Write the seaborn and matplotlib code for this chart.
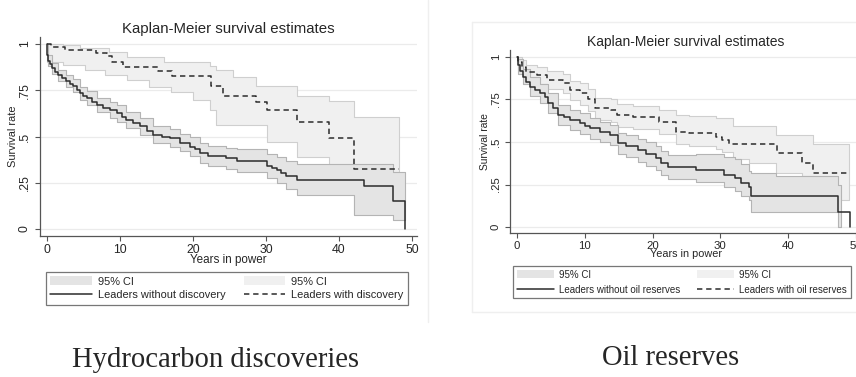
import matplotlib
matplotlib.use('agg')
import matplotlib.pyplot as plt
from matplotlib.patches import Patch
from matplotlib.lines import Line2D
import seaborn as sns

# --- data (years in power -> survival rate) ---
# left panel: hydrocarbon discoveries
hc_no_t = [0, 0.05, 0.1, 0.2, 0.4, 0.7, 1.1, 1.6, 2.1, 2.7, 3.2, 3.65, 4.1, 4.6, 5.0, 5.5,
           6.2, 6.85, 7.7, 8.7, 9.6, 10.3, 10.9, 11.8, 12.8, 13.7, 14.6, 15.8, 16.9, 18.2,
           19.6, 20.3, 21.0, 22.1, 24.6, 26.0, 30.1, 30.8, 31.5, 32.1, 32.8, 34.2, 43.4,
           47.4, 49.0]
hc_no_s = [1.0, 0.97, 0.94, 0.91, 0.89, 0.87, 0.85, 0.83, 0.815, 0.80, 0.785, 0.773, 0.752,
           0.733, 0.72, 0.706, 0.688, 0.67, 0.656, 0.643, 0.625, 0.607, 0.589, 0.573, 0.557,
           0.532, 0.508, 0.498, 0.49, 0.467, 0.445, 0.43, 0.409, 0.395, 0.382, 0.369, 0.34,
           0.33, 0.319, 0.30, 0.286, 0.265, 0.231, 0.151, 0.0]
hc_no_ci_t = [0, 0.2, 0.7, 1.6, 2.7, 3.65, 4.6, 5.5, 6.85, 8.7, 9.6, 10.9, 12.8, 14.6, 16.9,
              18.2, 19.6, 21.0, 22.1, 24.6, 26.0, 30.1, 31.5, 32.8, 34.2, 42.1, 47.4, 49.0]
hc_no_ci_lo = [1.0, 0.88, 0.84, 0.80, 0.77, 0.74, 0.70, 0.67, 0.63, 0.60, 0.58, 0.545, 0.51,
               0.465, 0.445, 0.42, 0.395, 0.355, 0.34, 0.325, 0.31, 0.275, 0.25, 0.215, 0.184,
               0.076, 0.047, 0.047]
hc_no_ci_hi = [1.0, 0.94, 0.90, 0.86, 0.83, 0.81, 0.77, 0.745, 0.71, 0.685, 0.67, 0.635, 0.60,
               0.555, 0.54, 0.515, 0.495, 0.463, 0.45, 0.44, 0.43, 0.405, 0.39, 0.365, 0.35,
               0.35, 0.31, 0.31]

hc_yes_t = [0, 0.6, 2.5, 6.8, 8.3, 9.0, 10.4, 15.2, 17.2, 22.5, 24.1, 28.6, 30.1, 34.2, 38.6,
            42.1, 48.2]
hc_yes_s = [1.0, 0.985, 0.97, 0.95, 0.935, 0.905, 0.877, 0.856, 0.827, 0.773, 0.719, 0.688,
            0.643, 0.58, 0.49, 0.323, 0.323]
hc_yes_ci_t = [0, 2.2, 4.5, 5.2, 8.0, 8.5, 11.0, 14.0, 16.0, 17.0, 20.0, 22.3, 23.2, 25.5,
               28.6, 30.1, 34.2, 38.6, 42.1, 48.2]
hc_yes_ci_lo = [0.905, 0.886, 0.886, 0.86, 0.832, 0.832, 0.805, 0.77, 0.77, 0.74, 0.70, 0.643,
                0.562, 0.562, 0.562, 0.472, 0.39, 0.256, 0.08, 0.08]
hc_yes_ci_hi = [1.0, 0.995, 0.977, 0.977, 0.977, 0.958, 0.931, 0.931, 0.905, 0.905, 0.905,
                0.88, 0.86, 0.823, 0.773, 0.773, 0.72, 0.69, 0.607, 0.607]

# right panel: oil reserves
oil_no_t = [0, 0.1, 0.2, 0.5, 0.93, 1.4, 1.9, 2.6, 3.4, 4.1, 4.6, 5.3, 6.1, 7.0, 7.8, 9.3,
            10.0, 10.7, 12.2, 13.7, 14.9, 16.1, 17.8, 19.1, 20.5, 21.3, 22.3, 26.4, 30.6,
            32.1, 33.0, 34.3, 34.5, 47.4, 49.1]
oil_no_s = [1.0, 0.975, 0.953, 0.92, 0.884, 0.855, 0.825, 0.805, 0.786, 0.767, 0.727, 0.698,
            0.659, 0.645, 0.629, 0.61, 0.595, 0.58, 0.561, 0.541, 0.492, 0.476, 0.453, 0.429,
            0.404, 0.375, 0.351, 0.335, 0.306, 0.286, 0.257, 0.237, 0.182, 0.09, 0.0]
oil_no_ci_t = [0, 0.2, 0.93, 1.9, 3.4, 4.6, 6.1, 7.8, 9.3, 10.7, 12.2, 13.7, 14.9, 16.1, 17.8,
               19.1, 20.5, 21.3, 22.3, 26.4, 30.6, 32.1, 33.0, 34.3, 34.5, 38.2, 47.4, 47.8]
oil_no_ci_lo = [1.0, 0.90, 0.84, 0.77, 0.73, 0.67, 0.60, 0.57, 0.55, 0.52, 0.50, 0.48, 0.43,
                0.41, 0.385, 0.36, 0.335, 0.305, 0.28, 0.265, 0.235, 0.21, 0.18, 0.16, 0.09,
                0.09, 0.0, 0.0]
oil_no_ci_hi = [1.0, 0.99, 0.93, 0.88, 0.84, 0.79, 0.72, 0.69, 0.67, 0.64, 0.62, 0.60, 0.555,
                0.54, 0.52, 0.50, 0.475, 0.445, 0.425, 0.43, 0.41, 0.40, 0.37, 0.33, 0.316,
                0.30, 0.25, 0.25]

oil_yes_t = [0, 0.2, 0.7, 1.4, 2.9, 4.4, 6.8, 7.8, 9.3, 10.5, 11.5, 13.9, 14.7, 17.1, 21.0,
             23.5, 25.4, 29.4, 30.3, 31.3, 38.4, 42.0, 43.6, 49.0]
oil_yes_s = [1.0, 0.973, 0.943, 0.914, 0.894, 0.865, 0.849, 0.806, 0.786, 0.751, 0.698, 0.688,
             0.659, 0.645, 0.62, 0.561, 0.551, 0.531, 0.512, 0.486, 0.437, 0.378, 0.316, 0.316]
oil_yes_ci_t = [0, 0.2, 0.7, 1.4, 2.9, 4.4, 6.8, 7.8, 9.3, 10.5, 11.5, 13.9, 14.7, 17.1, 21.0,
                23.5, 25.4, 29.4, 30.3, 31.9, 34.3, 38.2, 42.0, 43.6, 49.0]
oil_yes_ci_lo = [1.0, 0.93, 0.90, 0.87, 0.84, 0.81, 0.79, 0.745, 0.72, 0.685, 0.63, 0.62, 0.59,
                 0.575, 0.55, 0.49, 0.475, 0.46, 0.44, 0.40, 0.376, 0.317, 0.30, 0.16, 0.16]
oil_yes_ci_hi = [1.0, 1.0, 0.98, 0.955, 0.94, 0.915, 0.90, 0.86, 0.845, 0.81, 0.76, 0.75, 0.725,
                 0.71, 0.69, 0.66, 0.65, 0.64, 0.64, 0.594, 0.594, 0.54, 0.54, 0.49, 0.49]

y_ticks = [0, 0.25, 0.5, 0.75, 1]
y_tick_labels = ['0', '.25', '.5', '.75', '1']
x_ticks = [0, 10, 20, 30, 40, 50]

W, H = 856, 377
DARK_CI = '#e4e4e4'
LIGHT_CI = '#f0f0f0'
LINE_C = '#2b2b2b'
AXIS_C = '#555555'

sns.set_theme(style='white')
plt.rcParams['font.family'] = ['Liberation Sans', 'DejaVu Sans']

fig = plt.figure(figsize=(W / 100, H / 100), dpi=100)
fig.patch.set_facecolor('white')


def px_axes(x0, x1, y0, y1):
    # pixel box (top-left origin) -> figure fraction
    return fig.add_axes([x0 / W, 1 - y1 / H, (x1 - x0) / W, (y1 - y0) / H])


def km_panel(ax, no, yes, xlim, ylim, s, labels, leg_xy, leg_fs, leg_sp):
    (t0, s0, ct0, lo0, hi0) = no
    (t1, s1, ct1, lo1, hi1) = yes
    for yv in y_ticks:
        ax.axhline(yv, color='#ebebeb', lw=0.9, zorder=0)
    ax.fill_between(ct1, lo1, hi1, step='post', facecolor=LIGHT_CI,
                    edgecolor='#cfcfcf', lw=0.8, zorder=1)
    ax.fill_between(ct0, lo0, hi0, step='post', facecolor=DARK_CI,
                    edgecolor='#b4b4b4', lw=0.8, zorder=2)
    sns.lineplot(x=t0, y=s0, ax=ax, drawstyle='steps-post', estimator=None, sort=False,
                 color=LINE_C, lw=1.1, zorder=3)
    sns.lineplot(x=t1, y=s1, ax=ax, drawstyle='steps-post', estimator=None, sort=False,
                 color=LINE_C, lw=1.1, dashes=(3.5, 2.5), zorder=3)
    ax.set_xlim(*xlim)
    ax.set_ylim(*ylim)
    ax.set_xticks(x_ticks)
    ax.set_yticks(y_ticks)
    ax.set_yticklabels(y_tick_labels, rotation=90, va='center')
    for sp in ['top', 'right']:
        ax.spines[sp].set_visible(False)
    for sp in ['left', 'bottom']:
        ax.spines[sp].set_color(AXIS_C)
        ax.spines[sp].set_linewidth(0.9)
    ax.tick_params(axis='both', direction='out', length=3.5, width=0.8, color=AXIS_C,
                   labelsize=8.8 * s, pad=2, left=True, bottom=True)
    ax.tick_params(axis='y', pad=3)
    ax.set_xlabel('Years in power', fontsize=8.4 * s, labelpad=-1.0)
    ax.set_ylabel('Survival rate', fontsize=7.9 * s, labelpad=0.5)
    ax.set_title('Kaplan-Meier survival estimates', fontsize=10.8 * s, pad=3.0)
    ax.set_facecolor('white')

    handles = [Patch(facecolor=DARK_CI, edgecolor='none'),
               Line2D([], [], color=LINE_C, lw=1.1),
               Patch(facecolor=LIGHT_CI, edgecolor='none'),
               Line2D([], [], color=LINE_C, lw=1.1, dashes=(3.5, 2.5))]
    leg = fig.legend(handles, ['95% CI', labels[0], '95% CI', labels[1]], ncol=2,
                     loc='upper left', bbox_to_anchor=(leg_xy[0] / W, 1 - leg_xy[1] / H),
                     bbox_transform=fig.transFigure, borderaxespad=0, fontsize=leg_fs,
                     frameon=True, fancybox=False, handlelength=3.8, handleheight=0.9,
                     handletextpad=0.55, columnspacing=1.65, labelspacing=leg_sp,
                     borderpad=0.38)
    leg.get_frame().set_edgecolor(AXIS_C)
    leg.get_frame().set_linewidth(0.9)


# left: hydrocarbon discoveries
ax1 = px_axes(40, 417, 37, 236)
km_panel(ax1,
         (hc_no_t, hc_no_s, hc_no_ci_t, hc_no_ci_lo, hc_no_ci_hi),
         (hc_yes_t, hc_yes_s, hc_yes_ci_t, hc_yes_ci_lo, hc_yes_ci_hi),
         (-0.92, 50.68), (-0.038, 1.038), 1.0,
         ['Leaders without discovery', 'Leaders with discovery'], (46, 272), 7.9, 0.32)

# right: oil reserves (cut off at the right edge)
ax2 = px_axes(510, 862, 50, 233)
km_panel(ax2,
         (oil_no_t, oil_no_s, oil_no_ci_t, oil_no_ci_lo, oil_no_ci_hi),
         (oil_yes_t, oil_yes_s, oil_yes_ci_t, oil_yes_ci_lo, oil_yes_ci_hi),
         (-1.03, 50.9), (-0.035, 1.041), 0.93,
         ['Leaders without oil reserves', 'Leaders with oil reserves'], (513, 266), 7.05, 0.5)

# faint borders of the two pasted graph images
faint = '#efefef'
fig.add_artist(Line2D([428 / W, 428 / W], [1, 1 - 322 / H], color=faint, lw=1))
fig.add_artist(Line2D([472 / W, 1], [1 - 22 / H, 1 - 22 / H], color=faint, lw=1))
fig.add_artist(Line2D([472 / W, 472 / W], [1 - 22 / H, 1 - 312 / H], color=faint, lw=1))
fig.add_artist(Line2D([472 / W, 1], [1 - 312 / H, 1 - 312 / H], color=faint, lw=1))

# captions under the panels
fig.text(216 / W, 1 - 360 / H, 'Hydrocarbon discoveries', ha='center', va='center',
         fontsize=20.6, family=['Liberation Serif', 'DejaVu Serif'])
fig.text(671 / W, 1 - 358 / H, 'Oil reserves', ha='center', va='center',
         fontsize=20.6, family=['Liberation Serif', 'DejaVu Serif'])

fig.savefig('out.png', dpi=100, facecolor='white')
